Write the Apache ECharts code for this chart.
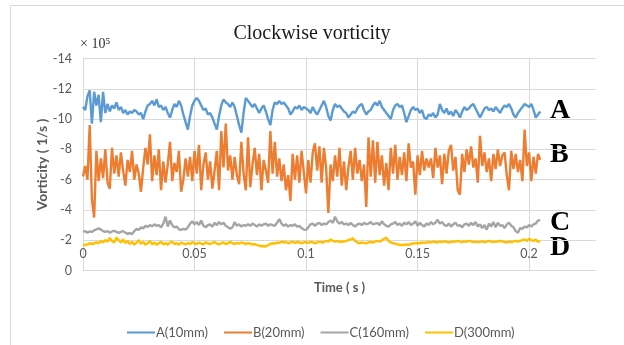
<!DOCTYPE html>
<html>
<head>
<meta charset="utf-8">
<script src="https://cdn.jsdelivr.net/npm/echarts@6/dist/echarts.min.js"></script>
<style>
  html, body { margin: 0; padding: 0; background: #fff; }
  #chart { width: 624px; height: 345px; }
</style>
</head>
<body>
<div id="chart"></div>
<script>
// Vorticity samples (×10^5 1/s), one every millisecond from t = 0 s.
const seriesNames = ['A(10mm)', 'B(20mm)', 'C(160mm)', 'D(300mm)'];
const sampleStep = 0.001; // s

const valA = [
  -10.8,-10.6,-11.5,-11.9,-9.7,-11.8,-10.9,-11.6,-9.8,-11.8,
  -10.4,-11.0,-10.5,-10.9,-10.7,-11.1,-10.6,-10.8,-10.4,-10.6,
  -10.3,-10.5,-10.4,-10.6,-10.5,-10.3,-10.4,-10.0,-10.5,-10.9,
  -11.0,-11.2,-10.9,-11.3,-10.8,-10.9,-10.6,-10.8,-10.4,-10.1,
  -10.6,-11.0,-10.8,-11.2,-10.9,-10.3,-9.8,-9.3,-10.2,-10.9,
  -11.2,-11.4,-11.2,-10.9,-10.6,-10.7,-10.3,-10.4,-10.1,-9.7,
  -9.3,-10.2,-10.9,-11.3,-11.1,-11.0,-10.8,-11.1,-10.8,-10.2,
  -9.6,-9.1,-10.4,-11.4,-11.2,-11.0,-10.8,-11.0,-10.7,-10.4,
  -10.7,-10.9,-10.5,-10.0,-9.6,-10.6,-11.1,-11.0,-11.2,-11.0,
  -11.1,-10.9,-10.7,-10.3,-10.5,-10.8,-10.7,-10.9,-10.6,-10.8,
  -10.7,-10.6,-10.4,-10.8,-10.5,-10.3,-10.6,-10.9,-11.2,-10.8,
  -10.2,-9.9,-10.6,-11.0,-10.8,-10.9,-10.7,-10.5,-10.4,-10.1,
  -10.3,-10.5,-10.4,-10.7,-10.9,-11.0,-10.6,-10.3,-10.5,-10.6,
  -10.9,-11.1,-10.9,-11.2,-10.8,-10.6,-10.4,-10.2,-10.0,-10.6,
  -10.9,-11.0,-10.8,-10.9,-10.4,-9.8,-10.2,-10.6,-10.8,-10.6,
  -10.7,-10.4,-10.6,-10.1,-10.0,-10.3,-10.2,-10.4,-10.1,-10.3,
  -11.0,-10.6,-10.4,-10.7,-10.3,-10.5,-10.2,-10.6,-10.4,-10.1,
  -10.5,-10.8,-10.6,-10.7,-10.9,-11.0,-10.7,-10.4,-10.1,-10.4,
  -10.7,-10.8,-10.6,-10.7,-10.5,-10.8,-10.6,-10.4,-10.7,-10.9,
  -10.8,-11.0,-10.7,-10.3,-10.1,-10.4,-10.6,-10.8,-11.0,-10.9,
  -10.8,-11.0,-10.6,-10.1,-10.3,-10.5
];

const valB = [
  -6.2,-6.9,-6.0,-9.6,-4.7,-3.5,-7.9,-5.9,-7.4,-6.1,
  -8.0,-5.8,-5.4,-8.1,-6.4,-7.6,-6.2,-7.8,-6.6,-5.6,
  -7.3,-6.5,-7.9,-6.0,-7.0,-6.4,-5.2,-6.8,-8.1,-7.0,
  -9.0,-5.9,-7.6,-6.3,-8.0,-5.3,-7.2,-5.8,-7.0,-8.5,
  -5.9,-7.1,-6.5,-7.9,-5.2,-6.0,-7.4,-6.2,-7.5,-5.9,
  -7.9,-6.4,-8.3,-5.3,-7.0,-7.8,-6.0,-7.2,-5.4,-6.6,
  -7.9,-5.3,-9.2,-6.8,-9.7,-6.6,-7.6,-6.0,-7.5,-6.3,
  -5.7,-8.5,-6.4,-5.3,-8.8,-5.5,-7.0,-8.1,-6.3,-7.7,
  -5.3,-7.3,-6.6,-5.8,-9.2,-6.4,-8.5,-6.2,-7.4,-5.9,
  -7.0,-5.3,-6.3,-4.6,-7.7,-6.0,-7.6,-5.8,-7.9,-6.5,
  -5.1,-7.3,-5.8,-7.8,-8.4,-6.6,-8.2,-5.8,-8.1,-6.8,
  -3.8,-7.0,-5.9,-7.6,-6.2,-8.1,-5.6,-7.2,-5.3,-6.8,
  -7.9,-6.0,-8.1,-6.4,-7.3,-5.9,-7.0,-4.2,-8.8,-6.2,
  -8.6,-5.8,-8.5,-6.3,-7.6,-5.6,-7.1,-5.3,-8.1,-6.4,
  -8.3,-6.0,-7.5,-6.3,-7.8,-5.9,-8.4,-6.8,-7.2,-5.0,
  -7.6,-6.3,-7.9,-6.6,-7.4,-6.8,-7.4,-6.1,-8.1,-6.8,
  -7.6,-5.7,-7.7,-6.4,-7.9,-8.3,-6.6,-7.5,-5.3,-5.0,
  -7.7,-6.5,-8.0,-7.0,-8.2,-6.8,-7.4,-5.8,-8.9,-6.9,
  -7.8,-6.5,-7.4,-5.9,-7.7,-6.7,-8.0,-6.9,-7.6,-7.8,
  -6.3,-5.3,-7.9,-6.7,-7.7,-6.5,-7.3,-5.9,-9.3,-6.9,
  -7.8,-5.9,-7.5,-6.4,-7.7,-7.3
];

const valC = [
  -2.55,-2.6,-2.5,-2.58,-2.55,-2.65,-2.72,-2.78,-2.7,-2.6,
  -2.55,-2.6,-2.5,-2.58,-2.62,-2.55,-2.48,-2.55,-2.6,-2.5,
  -2.42,-2.48,-2.4,-2.6,-2.75,-2.68,-2.85,-2.78,-2.95,-2.88,
  -3.0,-2.92,-3.05,-2.95,-3.0,-2.85,-3.1,-3.55,-2.9,-3.3,
  -3.0,-2.85,-2.9,-2.72,-2.68,-2.75,-2.7,-2.85,-3.1,-3.25,
  -3.05,-3.2,-3.0,-3.3,-2.95,-2.85,-3.0,-3.05,-2.9,-3.15,
  -3.0,-3.2,-3.05,-3.15,-2.95,-2.85,-2.75,-2.85,-3.2,-2.95,
  -3.05,-2.9,-3.0,-2.95,-3.05,-2.95,-3.1,-3.0,-2.9,-3.05,
  -2.95,-3.05,-3.1,-2.95,-3.05,-3.0,-2.95,-3.15,-3.4,-3.1,
  -2.95,-3.05,-2.9,-3.0,-2.95,-3.05,-2.9,-2.95,-2.8,-2.7,
  -2.68,-2.85,-3.05,-3.1,-2.95,-3.1,-3.15,-3.0,-3.1,-3.05,
  -3.2,-3.3,-3.15,-3.55,-3.25,-3.1,-3.2,-3.05,-3.1,-3.0,
  -3.15,-3.0,-2.9,-3.05,-3.1,-3.0,-3.15,-3.05,-3.1,-3.2,
  -3.05,-3.1,-3.15,-3.0,-3.25,-3.05,-2.95,-2.9,-3.05,-3.1,
  -3.2,-3.0,-3.1,-2.95,-3.15,-3.05,-3.2,-3.0,-3.1,-3.25,
  -2.95,-3.15,-3.0,-2.9,-3.1,-3.0,-3.2,-3.05,-3.15,-3.35,
  -3.1,-3.2,-3.0,-2.95,-3.1,-2.9,-3.05,-3.15,-2.95,-3.0,
  -2.85,-3.05,-3.1,-2.95,-3.15,-3.0,-3.2,-2.9,-3.05,-2.8,
  -3.0,-2.7,-3.1,-2.9,-3.2,-2.85,-3.15,-2.95,-3.0,-2.8,
  -3.05,-3.15,-2.95,-2.85,-2.6,-2.5,-2.8,-2.75,-2.9,-2.85,
  -3.0,-2.9,-3.05,-3.1,-3.3,-3.35
];

const valD = [
  -1.65,-1.7,-1.72,-1.8,-1.75,-1.8,-1.85,-1.8,-1.95,-1.85,
  -2.0,-1.9,-2.15,-1.95,-1.85,-2.18,-2.0,-1.85,-2.05,-1.8,
  -1.95,-1.75,-1.9,-1.7,-1.85,-2.0,-1.75,-1.9,-1.7,-1.8,
  -1.95,-1.72,-1.85,-1.7,-1.8,-1.9,-1.72,-1.82,-1.7,-1.85,
  -1.9,-1.75,-1.8,-1.7,-1.85,-1.78,-1.72,-1.82,-1.75,-1.88,
  -1.8,-1.75,-1.85,-1.78,-1.72,-1.85,-1.8,-1.75,-1.82,-1.88,
  -1.78,-1.72,-1.8,-1.85,-1.75,-1.8,-1.9,-1.8,-1.75,-1.82,
  -1.78,-1.85,-1.8,-1.75,-1.8,-1.78,-1.72,-1.75,-1.68,-1.65,
  -1.6,-1.62,-1.58,-1.68,-1.75,-1.8,-1.78,-1.85,-1.82,-1.9,
  -1.85,-1.88,-1.8,-1.85,-1.9,-1.82,-1.88,-1.85,-1.8,-1.85,
  -1.88,-1.82,-1.9,-1.85,-1.8,-1.85,-1.9,-1.85,-1.88,-1.95,
  -1.9,-2.05,-1.95,-1.9,-1.95,-1.88,-1.92,-1.9,-1.95,-2.0,
  -2.05,-2.12,-1.95,-1.85,-1.8,-1.85,-1.82,-1.8,-1.85,-1.88,
  -1.85,-1.9,-1.95,-1.9,-2.0,-2.1,-2.15,-1.95,-1.85,-1.8,
  -1.78,-1.72,-1.7,-1.68,-1.7,-1.72,-1.7,-1.75,-1.78,-1.8,
  -1.82,-1.8,-1.85,-1.82,-1.85,-1.88,-1.85,-1.9,-1.88,-1.85,
  -1.9,-1.88,-1.92,-1.9,-1.85,-1.88,-1.92,-1.9,-1.95,-1.9,
  -1.88,-1.92,-1.9,-1.95,-1.92,-1.88,-1.9,-1.85,-1.9,-1.92,
  -1.88,-1.9,-1.95,-1.9,-1.88,-1.92,-1.9,-1.95,-1.92,-1.88,
  -1.85,-1.9,-1.88,-1.92,-1.95,-1.9,-1.95,-2.0,-2.05,-1.95,
  -2.1,-2.0,-1.95,-2.05,-1.88,-1.95
];

const seriesColors = ['#5B9BD5', '#ED7D31', '#A5A5A5', '#FFC000'];
const curveLetters = ['A', 'B', 'C', 'D'];

// Sample times for the recorded points
const time = valA.map((_, i) => +(i * sampleStep).toFixed(3));
const pairs = vals => vals.map((v, i) => [time[i], v]);

const gridColor = '#D9D9D9';
const textGray = '#595959';
const sansFont = 'Lato, "Noto Sans", sans-serif';
const serifFont = '"Liberation Serif", "DejaVu Serif", serif';

const chart = echarts.init(document.getElementById('chart'), null, { renderer: 'canvas' });

const letterY = [110.8, 154.5, 222.5, 247.5];

chart.setOption({
  animation: false,
  backgroundColor: '#fff',
  title: {
    text: 'Clockwise vorticity',
    left: 'center',
    top: 19,
    textStyle: { fontFamily: serifFont, fontSize: 20, fontWeight: 'normal', color: '#1a1a1a' }
  },
  grid: { left: 83, top: 58.5, width: 513, height: 212, containLabel: false },
  xAxis: {
    type: 'value',
    min: 0,
    max: 0.23,
    interval: 0.05,
    name: 'Time ( s )',
    nameLocation: 'middle',
    nameGap: 11,
    nameMoveOverlap: false,
    nameTextStyle: { fontFamily: sansFont, fontSize: 13, fontWeight: 'bold', color: textGray },
    axisLine: { show: true, onZero: false, lineStyle: { color: gridColor, width: 1 } },
    axisTick: { show: false },
    axisLabel: {
      margin: -23,
      showMaxLabel: false,
      fontFamily: sansFont, fontSize: 12.5, color: textGray,
      formatter: v => String(+v.toFixed(2))
    },
    splitLine: { show: true, showMaxLine: false, lineStyle: { color: gridColor, width: 1 } }
  },
  yAxis: {
    type: 'value',
    min: -14,
    max: 0,
    interval: 2,
    inverse: true,
    name: 'Vorticity ( 1/s )',
    nameLocation: 'middle',
    nameGap: 34,
    nameMoveOverlap: false,
    nameRotate: 90,
    nameTextStyle: { fontFamily: sansFont, fontSize: 14, fontWeight: 'bold', color: textGray },
    axisLine: { show: true, lineStyle: { color: gridColor, width: 1 } },
    axisTick: { show: false },
    axisLabel: { margin: 11, fontFamily: sansFont, fontSize: 12.5, color: textGray },
    splitLine: { show: true, lineStyle: { color: gridColor, width: 1 } }
  },
  legend: {
    left: 122,
    top: 321,
    itemWidth: 28,
    itemHeight: 14,
    itemGap: 16,
    icon: 'path://M0,6L28,6L28,8L0,8Z',
    textStyle: { fontFamily: sansFont, fontSize: 13, color: textGray, padding: [0, 0, 0, -4] },
    data: seriesNames
  },
  series: [valA, valB, valC, valD].map((vals, k) => ({
    name: seriesNames[k],
    type: 'line',
    data: pairs(vals),
    showSymbol: false,
    symbol: 'none',
    color: seriesColors[k],
    lineStyle: { color: seriesColors[k], width: 2.4 },
    z: 2 + k
  })),
  graphic: [
    {
      type: 'rect',
      silent: true,
      shape: { x: 10.5, y: 5.5, width: 700, height: 400 },
      style: { fill: 'none', stroke: gridColor, lineWidth: 1 }
    },
    {
      type: 'text',
      left: 80,
      top: 37,
      style: { text: '× 10⁵', fontFamily: serifFont, fontSize: 14, fill: '#333' }
    }
  ].concat(curveLetters.map((t, k) => ({
    type: 'text',
    x: 550,
    y: letterY[k],
    style: {
      text: t,
      fontFamily: serifFont,
      fontSize: 28,
      fontWeight: 'bold',
      fill: '#000',
      align: 'left',
      verticalAlign: 'middle'
    }
  })))
});
</script>
</body>
</html>
